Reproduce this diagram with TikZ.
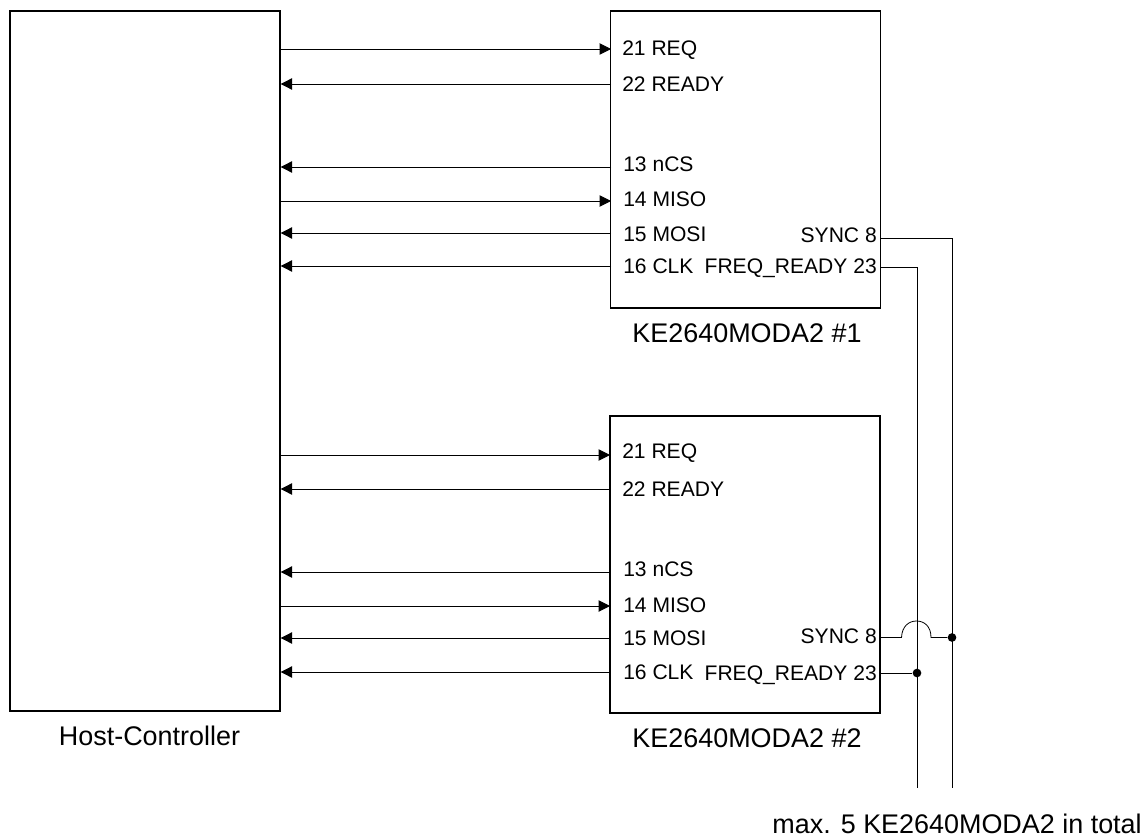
\documentclass[tikz,border=0pt]{standalone}
\usepackage{fontspec}
\setmainfont{Liberation Sans}
\usetikzlibrary{arrows.meta}
\begin{document}
\begin{tikzpicture}[
    x=0.75pt, y=-0.75pt,
    box/.style={draw, line width=1pt, inner sep=0pt},
    pin/.style={font=\fontsize{15.8}{18}\selectfont, inner sep=0pt},
    caption/.style={font=\fontsize{20.2}{24}\selectfont, inner sep=0pt},
    sig/.style={line width=0.7pt, -{Triangle[length=8.5pt,width=8.5pt]}},
    wire/.style={line width=0.6pt},
    dot/.style={circle, fill=black, inner sep=0pt, minimum size=6.5pt},
  ]
    \useasboundingbox (0,0) rectangle (1148,838);

    \node[box, minimum width=202.5pt, minimum height=525pt] (host) at (145,361) {};
    \node[box, minimum width=202.5pt, minimum height=222.75pt] (modA) at (745.5,159.5) {};
    \node[box, minimum width=202.5pt, minimum height=222.75pt] (modB) at (745,564.5) {};

    \node[caption] (hostcap) at (149.5,736) {Host-Controller};
    \node[caption] (modAcap) at (747,333) {KE2640MODA2 \#1};
    \node[caption] (modBcap) at (747,738) {KE2640MODA2 \#2};
    \node[caption, anchor=east] (total) at (1142,824) {max. 5 KE2640MODA2 in total};

    % first module
    \node[pin, anchor=west] (reqA) at (622,50) {21 REQ};
    \node[pin, anchor=west] (rdyA) at (622,84) {22 READY};
    \node[pin, anchor=west] (csA) at (623,164) {13 nCS};
    \node[pin, anchor=west] (misoA) at (623,199) {14 MISO};
    \node[pin, anchor=west] (mosiA) at (623,234) {15 MOSI};
    \node[pin, anchor=west] (clkA) at (623,266) {16 CLK};
    \node[pin, anchor=east] (syncA) at (877,235) {SYNC 8};
    \node[pin, anchor=east] (frdyA) at (877,268) {FREQ\_READY 23};

    % second module
    \node[pin, anchor=west] (reqB) at (622,453) {21 REQ};
    \node[pin, anchor=west] (rdyB) at (622,489) {22 READY};
    \node[pin, anchor=west] (csB) at (623,569) {13 nCS};
    \node[pin, anchor=west] (misoB) at (623,605) {14 MISO};
    \node[pin, anchor=west] (mosiB) at (623,638) {15 MOSI};
    \node[pin, anchor=west] (clkB) at (623,672) {16 CLK};
    \node[pin, anchor=east] (syncB) at (877,636) {SYNC 8};
    \node[pin, anchor=east] (frdyB) at (877,675) {FREQ\_READY 23};

    \coordinate (lreqA) at (611,49);
    \coordinate (lrdyA) at (611,84);
    \coordinate (lcsA) at (611,167);
    \coordinate (lmisoA) at (611,201);
    \coordinate (lmosiA) at (611,233);
    \coordinate (lclkA) at (611,266);
    \coordinate (lreqB) at (610,455);
    \coordinate (lrdyB) at (610,489);
    \coordinate (lcsB) at (610,572);
    \coordinate (lmisoB) at (610,606);
    \coordinate (lmosiB) at (610,638);
    \coordinate (lclkB) at (610,672);

    \draw[sig] (host.east |- lreqA) -- (lreqA);
    \draw[sig] (lrdyA) -- (host.east |- lrdyA);
    \draw[sig] (lcsA) -- (host.east |- lcsA);
    \draw[sig] (host.east |- lmisoA) -- (lmisoA);
    \draw[sig] (lmosiA) -- (host.east |- lmosiA);
    \draw[sig] (lclkA) -- (host.east |- lclkA);
    \draw[sig] (host.east |- lreqB) -- (lreqB);
    \draw[sig] (lrdyB) -- (host.east |- lrdyB);
    \draw[sig] (lcsB) -- (host.east |- lcsB);
    \draw[sig] (host.east |- lmisoB) -- (lmisoB);
    \draw[sig] (lmosiB) -- (host.east |- lmosiB);
    \draw[sig] (lclkB) -- (host.east |- lclkB);

    % shared lines to the right
    \coordinate (endfrdy) at (917,788);
    \coordinate (endsync) at (952,788);
    \node[dot] (dotfrdy) at (917,673) {};
    \node[dot] (dotsync) at (952,637.5) {};

    \draw[wire] (modA.east |- 0,267) -| (endfrdy);
    \draw[wire] (modA.east |- 0,238) -| (endsync);
    \draw[wire] (modB.east |- dotfrdy) -- (dotfrdy);
    \draw[wire] (modB.east |- dotsync) -- (901.5,637.5)
      .. controls (902,626) and (909,621) .. (916.5,621)
      .. controls (924,621) and (931,626) .. (931,637.5) -- (dotsync);
  \end{tikzpicture}
\end{document}
